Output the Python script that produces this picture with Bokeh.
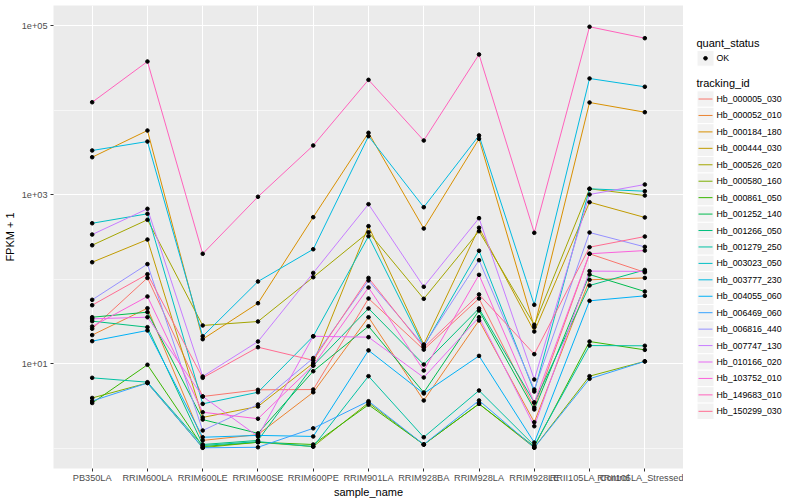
from bokeh.plotting import figure
from bokeh.models import FactorRange, Range1d, FixedTicker, CustomJSTickFormatter
from bokeh.layouts import row
from bokeh.core.properties import value
from bokeh.embed import file_html
from bokeh.resources import INLINE

samples = ["PB350LA", "RRIM600LA", "RRIM600LE", "RRIM600SE", "RRIM600PE", "RRIM901LA",
           "RRIM928BA", "RRIM928LA", "RRIM928LE", "RRII105LA_Control", "RRII105LA_Stressed"]

tracking_ids = ["Hb_000005_030", "Hb_000052_010", "Hb_000184_180", "Hb_000444_030",
                "Hb_000526_020", "Hb_000580_160", "Hb_000861_050", "Hb_001252_140",
                "Hb_001266_050", "Hb_001279_250", "Hb_003023_050", "Hb_003777_230",
                "Hb_004055_060", "Hb_006469_060", "Hb_006816_440", "Hb_007747_130",
                "Hb_010166_020", "Hb_103752_010", "Hb_149683_010", "Hb_150299_030"]

colors = ["#F8766D", "#EA8331", "#D89000", "#C09B00", "#A3A500", "#7CAE00", "#39B600",
          "#00BB4E", "#00BF7D", "#00C1A3", "#00BFC4", "#00BAE0", "#00B0F6", "#35A2FF",
          "#9590FF", "#C77CFF", "#E76BF3", "#FA62DB", "#FF62BC", "#FF6C91"]

# FPKM + 1 per sample (order of `samples`)
hb_000005_030 = [25.8, 103, 4.07, 4.88, 4.92, 58.8, 14.6, 58.8, 3.01, 199, 120]
hb_000052_010 = [21.7, 45.1, 1.23, 1.44, 4.57, 35.3, 3.65, 32.3, 2.02, 97.9, 103]
hb_000184_180 = [2763, 5718, 19.4, 51.7, 539, 5370, 396, 4560, 26.9, 12270, 9420]
hb_000444_030 = [158, 293, 2.30, 3.10, 10.1, 422, 16.8, 404, 23.9, 811, 535]
hb_000526_020 = [251, 502, 28.2, 31.4, 105, 358, 58.3, 368, 28.7, 1168, 973]
hb_000580_160 = [3.91, 5.88, 1.01, 1.17, 1.04, 3.43, 1.10, 3.33, 1.01, 7.08, 10.6]
hb_000861_050 = [3.41, 9.66, 1.04, 1.17, 1.10, 3.25, 1.10, 3.33, 1.04, 18.2, 14.5]
hb_001252_140 = [35.3, 40.5, 2.17, 1.49, 8.11, 27.6, 4.54, 42.4, 2.86, 113, 71.1]
hb_001266_050 = [31.7, 26.9, 1.10, 1.23, 9.47, 44.8, 9.73, 44.8, 3.45, 83.8, 128]
hb_001279_250 = [6.77, 6.01, 1.07, 1.19, 1.04, 7.08, 1.34, 4.79, 1.07, 16.3, 16.2]
hb_003023_050 = [457, 591, 3.33, 4.57, 21.0, 321, 15.9, 216, 4.66, 1168, 1094]
hb_003777_230 = [3319, 4236, 21.0, 93.4, 225, 4898, 708, 4990, 49.5, 23600, 18830]
hb_004055_060 = [18.4, 24.6, 1.34, 1.41, 1.37, 14.3, 4.42, 12.3, 1.16, 55.2, 63.2]
hb_006469_060 = [3.60, 5.88, 1.005, 1.02, 1.71, 3.58, 1.10, 3.65, 1.01, 6.59, 10.6]
hb_006816_440 = [56.7, 150, 1.61, 3.27, 11.6, 96.0, 16.3, 167, 4.92, 355, 240]
hb_007747_130 = [336, 677, 7.02, 18.2, 118, 768, 80.9, 525, 6.47, 1000, 1313]
hb_010166_020 = [33.8, 35.3, 4.07, 1.37, 21.0, 20.5, 6.83, 35.3, 1.81, 124, 123]
hb_103752_010 = [27.4, 62.1, 2.65, 2.22, 9.47, 79.3, 8.26, 112, 3.45, 199, 217]
hb_149683_010 = [12360, 37500, 199, 940, 3802, 22750, 4355, 45400, 352, 96600, 70800]
hb_150299_030 = [49.0, 114, 6.77, 15.6, 10.9, 103, 15.5, 65.6, 12.9, 238, 318]

series = [hb_000005_030, hb_000052_010, hb_000184_180, hb_000444_030, hb_000526_020,
          hb_000580_160, hb_000861_050, hb_001252_140, hb_001266_050, hb_001279_250,
          hb_003023_050, hb_003777_230, hb_004055_060, hb_006469_060, hb_006816_440,
          hb_007747_130, hb_010166_020, hb_103752_010, hb_149683_010, hb_150299_030]

FONT = "Liberation Sans"

p = figure(width=683, height=500,
           x_range=FactorRange(factors=samples, range_padding=0.2, range_padding_units="absolute"),
           y_axis_type="log", y_range=Range1d(0.572, 172500),
           output_backend="svg", toolbar_location=None,
           min_border_left=50, min_border_right=0, min_border_top=5, min_border_bottom=28)
p.background_fill_color = "#EBEBEB"
p.border_fill_color = "white"
p.outline_line_color = None

ticker = FixedTicker(ticks=[10, 1000, 100000], minor_ticks=[1, 100, 10000])
p.yaxis.ticker = ticker
p.ygrid.ticker = ticker
p.yaxis.formatter = CustomJSTickFormatter(
    code="const e = Math.round(Math.log10(tick)); return '1e+' + (e < 10 ? '0' + e : '' + e);")

p.grid.grid_line_color = "white"
p.grid.grid_line_width = 1.1
p.ygrid.minor_grid_line_color = "white"
p.ygrid.minor_grid_line_width = 0.55

for ax in (p.xaxis, p.yaxis):
    ax.axis_line_color = None
    ax.major_tick_line_color = "#333333"
    ax.major_tick_out = 3
    ax.major_tick_in = 0
    ax.minor_tick_line_color = None
    ax.major_label_text_font = FONT
    ax.major_label_text_font_size = "9.2px"
    ax.major_label_text_color = "#4D4D4D"
    ax.major_label_standoff = 1
    ax.axis_label_text_font = FONT
    ax.axis_label_text_font_size = "11px"
    ax.axis_label_text_font_style = "normal"
    ax.axis_label_text_color = "black"
    ax.axis_label_standoff = 0
p.yaxis.major_label_standoff = 2
p.yaxis.axis_label_standoff = 3
p.xaxis.axis_label = "sample_name"
p.yaxis.axis_label = "FPKM + 1"

for vals, c in zip(series, colors):
    p.line(x=samples, y=vals, line_color=c, line_width=1.0)
for vals in series:
    p.scatter(x=samples, y=vals, size=3.6, marker="circle", color="black")

# legend panel (pixel-like coordinates)
lg = figure(width=117, height=500, x_range=Range1d(0, 117), y_range=Range1d(500, 0),
            output_backend="svg", toolbar_location=None, min_border=0,
            x_axis_location=None, y_axis_location=None)
lg.outline_line_color = None
lg.grid.visible = False
lg.background_fill_color = "white"
lg.border_fill_color = "white"

lg.text(x=[13], y=[40.7], text=["quant_status"], text_font=value(FONT), text_font_size="11px",
        text_baseline="middle", text_align="left", text_color="black")
lg.rect(x=[22], y=[57], width=17, height=17, fill_color="#F2F2F2", line_color="white")
lg.scatter(x=[22], y=[57], size=3.6, color="black")
lg.text(x=[33], y=[57], text=["OK"], text_font=value(FONT), text_font_size="8.8px",
        text_baseline="middle", text_align="left", text_color="black")

lg.text(x=[13], y=[84], text=["tracking_id"], text_font=value(FONT), text_font_size="11px",
        text_baseline="middle", text_align="left", text_color="black")
key_y = [101 + 17.75 * i for i in range(len(tracking_ids))]
lg.rect(x=[22] * len(key_y), y=key_y, width=17, height=17.75, fill_color="#F2F2F2", line_color="white")
lg.segment(x0=[15] * len(key_y), y0=key_y, x1=[29] * len(key_y), y1=key_y, line_color=colors, line_width=1.0)
lg.text(x=[33] * len(key_y), y=key_y, text=tracking_ids, text_font=value(FONT), text_font_size="8.8px",
        text_baseline="middle", text_align="left", text_color="black")

layout = row(p, lg)
open("out.html", "w").write(file_html(layout, INLINE))
